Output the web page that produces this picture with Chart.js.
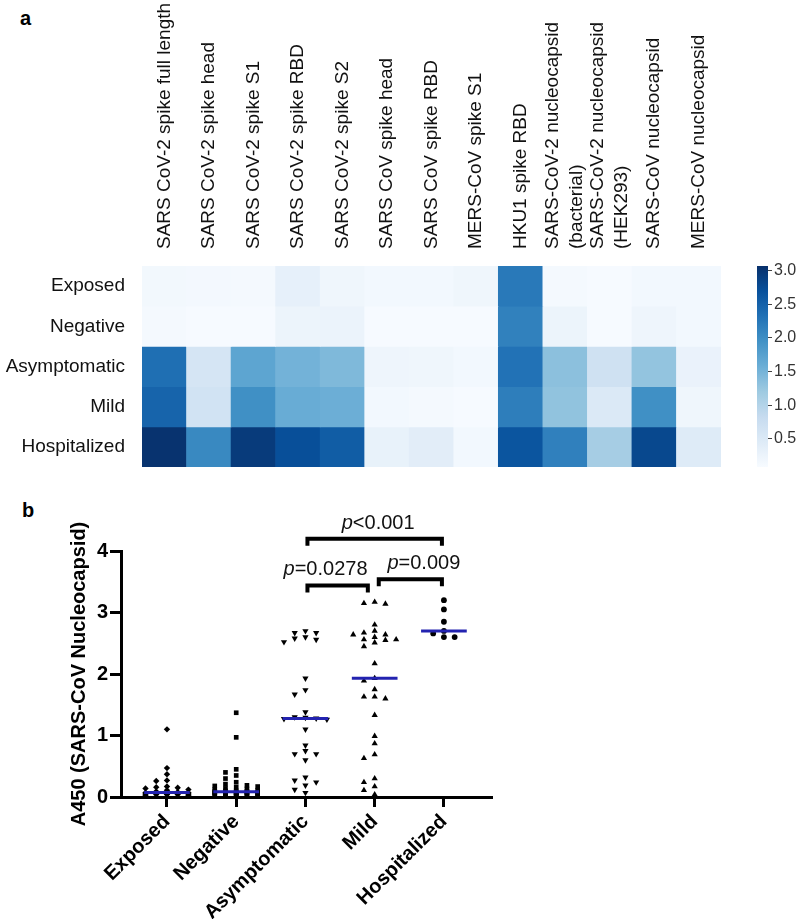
<!DOCTYPE html>
<html><head><meta charset="utf-8">
<script src="https://cdn.jsdelivr.net/npm/chart.js@4.4.1/dist/chart.umd.min.js"></script>
<style>
html,body{margin:0;padding:0;background:#fff;}
body{width:800px;height:919px;position:relative;overflow:hidden;font-family:"Liberation Sans",Arial,sans-serif;}
.panel{position:absolute;font-weight:bold;font-size:20px;line-height:20px;color:#000;}
canvas{position:absolute;}
</style></head><body>
<div class="panel" style="left:20px;top:8px">a</div>
<div class="panel" style="left:22px;top:500px">b</div>
<canvas id="heat" width="800" height="480" style="left:0;top:0"></canvas>
<canvas id="cbar" width="60" height="230" style="left:740px;top:250px"></canvas>
<canvas id="dots" width="800" height="429" style="left:0;top:490px"></canvas>
<script>
// ---------- Panel a: heatmap data ----------
const antigens = ['SARS CoV-2 spike full length','SARS CoV-2 spike head','SARS CoV-2 spike S1','SARS CoV-2 spike RBD','SARS CoV-2 spike S2','SARS CoV spike head','SARS CoV spike RBD','MERS-CoV spike S1','HKU1 spike RBD',['SARS-CoV-2 nucleocapsid','(bacterial)'],['SARS-CoV-2 nucleocapsid','(HEK293)'],'SARS-CoV nucleocapsid','MERS-CoV nucleocapsid'];
const cohorts = ['Exposed','Negative','Asymptomatic','Mild','Hospitalized'];
const heatExposed      = [0.16,0.14,0.12,0.33,0.20,0.15,0.15,0.20,2.23,0.12,0.10,0.15,0.15];
const heatNegative     = [0.12,0.10,0.10,0.25,0.26,0.10,0.10,0.10,2.14,0.25,0.10,0.22,0.15];
const heatAsymptomatic = [2.35,0.60,1.70,1.52,1.43,0.22,0.20,0.15,2.31,1.33,0.68,1.28,0.28];
const heatMild         = [2.47,0.65,1.97,1.60,1.57,0.15,0.12,0.10,2.18,1.30,0.50,1.97,0.20];
const heatHospitalized = [3.04,2.05,2.95,2.72,2.56,0.30,0.40,0.15,2.65,2.15,1.13,2.80,0.45];
const colorbarTicks = [0.5,1.0,1.5,2.0,2.5,3.0];
const colorMin = 0.08, colorMax = 3.07;

// ---------- Panel b: A450 data ----------
const groups = ['Exposed','Negative','Asymptomatic','Mild','Hospitalized'];
const a450Exposed = [1.10,0.47,0.37,0.27,0.26,0.17,0.16,0.15,0.14,0.12,0.11,0.09,0.08,0.07,0.07,0.06,0.06,0.06,0.05,0.05,0.05,0.04,0.04,0.04,0.03,0.03];
const a450Negative = [1.37,0.97,0.45,0.40,0.35,0.30,0.24,0.21,0.19,0.18,0.17,0.16,0.14,0.13,0.12,0.11,0.10,0.10,0.09,0.09,0.08,0.08,0.08,0.07,0.07,0.07,0.06,0.06,0.06,0.05,0.05,0.05,0.04,0.04,0.04,0.03,0.03,0.02,0.02,0.01];
const a450Asymptomatic = [2.70,2.67,2.67,2.60,2.58,2.56,2.52,1.93,1.74,1.67,1.38,1.30,1.29,1.28,1.27,1.26,1.10,0.84,0.75,0.70,0.70,0.60,0.32,0.27,0.24,0.19,0.12,0.07];
const a450Mild = [3.17,3.15,3.14,2.80,2.70,2.67,2.64,2.64,2.60,2.56,2.56,2.55,2.51,2.45,2.17,1.93,1.89,1.75,1.63,1.63,1.60,1.33,0.99,0.87,0.69,0.63,0.30,0.24,0.17,0.11,0.04];
const a450Hospitalized = [3.20,3.05,2.85,2.70,2.66,2.60,2.60];
const yTicksB = [0,1,2,3,4];
const pLabels = ['<0.001','=0.0278','=0.009'];
const pFrom   = [2, 2, 3.03];
const pTo     = [4, 2.93, 4];
const pLevel  = [4.20, 3.44, 3.54];
const pTextAt = [3.05, 2.29, 3.71];

// ---------- helpers ----------
Chart.defaults.font.family = '"Liberation Sans", Arial, sans-serif';
const BLUES = ['#f7fbff','#deebf7','#c6dbef','#9ecae1','#6baed6','#4292c6','#2171b5','#08519c','#08306b'];
function hex(h){return [parseInt(h.slice(1,3),16),parseInt(h.slice(3,5),16),parseInt(h.slice(5,7),16)];}
function blues(t){
  t=Math.max(0,Math.min(1,t)); const s=t*8; const i=Math.min(7,Math.floor(s)); const f=s-i;
  const a=hex(BLUES[i]), b=hex(BLUES[i+1]);
  return 'rgb('+a.map((c,k)=>Math.round(c+(b[k]-c)*f)).join(',')+')';
}
function norm(v){return (v-colorMin)/(colorMax-colorMin);}

// ---------- heatmap ----------
const LINE = 24; // spacing of two-line labels
const heatRows = [heatExposed, heatNegative, heatAsymptomatic, heatMild, heatHospitalized];
new Chart(document.getElementById('heat'), {
  type:'bar',
  data:{labels:antigens, datasets:heatRows.map((vals,r)=>({
    data: vals.map(()=>[r, r+1]),
    backgroundColor: vals.map(v=>blues(norm(v))),
    borderWidth:0, barPercentage:1, categoryPercentage:1, grouped:false
  }))},
  options:{responsive:false, animation:false, events:[],
    plugins:{legend:{display:false}, tooltip:{enabled:false}},
    layout:{padding:{left:0,right:79,top:0,bottom:13}},
    scales:{
      x:{position:'top', grid:{display:false, drawTicks:false}, border:{display:false},
         ticks:{minRotation:90, maxRotation:90, autoSkip:false, padding:17, color:'#111', labelOffset:1.5*LINE,
           font:(c)=>({size:19, lineHeight: Array.isArray(antigens[c.index]) ? LINE+'px' : (1.5*LINE)+'px'})},
         afterFit(s){s.height=266; s.paddingLeft=0; s.paddingRight=0;}},
      y:{reverse:true, min:0, max:5, grid:{display:false, drawTicks:false}, border:{display:false},
         afterBuildTicks(s){s.ticks=cohorts.map((_,i)=>({value:i+0.5}));},
         ticks:{autoSkip:false, padding:17, color:'#111', font:{size:19}, callback:(v,i)=>cohorts[i]},
         afterFit(s){s.width=142; s.paddingTop=0; s.paddingBottom=0;}}
    }}
});

// ---------- colorbar ----------
new Chart(document.getElementById('cbar'), {
  type:'bar',
  data:{labels:[''], datasets:[{data:[[colorMin,colorMax]], borderWidth:0, barPercentage:1, categoryPercentage:1,
    backgroundColor(ctx){const ca=ctx.chart.chartArea; if(!ca) return '#fff';
      const g=ctx.chart.ctx.createLinearGradient(0,ca.bottom,0,ca.top);
      for(let k=0;k<=16;k++) g.addColorStop(k/16, blues(k/16)); return g;}}]},
  options:{responsive:false, animation:false, events:[],
    plugins:{legend:{display:false}, tooltip:{enabled:false}},
    layout:{padding:{left:17,right:0,top:16,bottom:13}},
    scales:{
      x:{display:false},
      y:{position:'right', min:colorMin, max:colorMax,
         afterBuildTicks(s){s.ticks=colorbarTicks.map(v=>({value:v}));},
         grid:{drawOnChartArea:false, drawTicks:true, tickLength:4, color:'#444', lineWidth:1},
         border:{display:false},
         ticks:{padding:2, color:'#333', font:{size:16}, callback:v=>v.toFixed(1)},
         afterFit(s){s.width=32; s.paddingTop=0; s.paddingBottom=0;}}
    }}
});

// ---------- dot plot ----------
function swarm(values, step, thrPx, pxPerUnit, maxSlot){
  const idx=values.map((v,i)=>i).sort((a,b)=>values[b]-values[a]);
  const placed=[]; const off=new Array(values.length);
  for(const i of idx){
    const v=values[i]; let best=0, bestD=-1;
    for(let k=0;k<=2*maxSlot;k++){
      const s = k===0?0:(k%2? -Math.ceil(k/2): Math.ceil(k/2));
      let minD=Infinity;
      for(const p of placed) if(p.s===s) minD=Math.min(minD, Math.abs(p.v-v)*pxPerUnit);
      if(minD>=thrPx){best=s; bestD=minD; break;}
      if(minD>bestD){bestD=minD; best=s;}
    }
    placed.push({s:best,v}); off[i]=best*step;
  }
  return off;
}
function median(a){const s=[...a].sort((x,y)=>x-y); const n=s.length; return n%2? s[(n-1)/2] : (s[n/2-1]+s[n/2])/2;}

const groupValues=[a450Exposed,a450Negative,a450Asymptomatic,a450Mild,a450Hospitalized];
const styles=[{ps:'rectRot',r:3.2,rot:0},{ps:'rect',r:3.3,rot:0},{ps:'triangle',r:3.6,rot:180},{ps:'triangle',r:3.6,rot:0},{ps:'circle',r:2.9,rot:0}];
const datasets=[];
groupValues.forEach((vals,g)=>{
  const off=swarm(vals,0.155,5.5,61.4,2);
  datasets.push({type:'scatter', order:2, clip:false,
    data: vals.map((v,i)=>({x:g+off[i], y:v})),
    pointStyle:styles[g].ps, pointRadius:styles[g].r, rotation:styles[g].rot,
    backgroundColor:'#000', borderColor:'#000', borderWidth:0, pointHoverRadius:styles[g].r});
});
groupValues.forEach((vals,g)=>{
  const m=median(vals);
  datasets.push({type:'line', order:0, clip:false, data:[{x:g-0.33,y:m},{x:g+0.33,y:m}],
    borderColor:'#2323b0', borderWidth:3, pointRadius:0, fill:false});
});

const bracketPlugin={id:'brackets', afterDatasetsDraw(chart){
  const {ctx, scales:{x,y}}=chart; ctx.save();
  ctx.strokeStyle='#000'; ctx.fillStyle='#111'; ctx.lineWidth=4; ctx.lineCap='butt'; ctx.lineJoin='miter';
  pLabels.forEach((lab,i)=>{
    const x1=x.getPixelForValue(pFrom[i]), x2=x.getPixelForValue(pTo[i]), yy=y.getPixelForValue(pLevel[i]);
    ctx.beginPath(); ctx.moveTo(x1+2, yy+7); ctx.lineTo(x1+2, yy); ctx.lineTo(x2-2, yy); ctx.lineTo(x2-2, yy+7); ctx.stroke();
    ctx.font='italic 20px "Liberation Sans"'; const pw=ctx.measureText('p').width;
    ctx.font='20px "Liberation Sans"'; const rw=ctx.measureText(lab).width;
    const cx=x.getPixelForValue(pTextAt[i]); const sx=cx-(pw+rw)/2; const by=yy-10;
    ctx.textAlign='left'; ctx.textBaseline='alphabetic';
    ctx.font='italic 20px "Liberation Sans"'; ctx.fillText('p', sx, by);
    ctx.font='20px "Liberation Sans"'; ctx.fillText(lab, sx+pw, by);
  });
  ctx.restore();
}};

new Chart(document.getElementById('dots'), {
  type:'scatter',
  data:{datasets},
  options:{responsive:false, animation:false, events:[],
    plugins:{legend:{display:false}, tooltip:{enabled:false}},
    layout:{padding:{left:0,right:309,top:61,bottom:0}},
    scales:{
      x:{type:'linear', min:-0.664, max:4.68,
         afterBuildTicks(s){s.ticks=groups.map((_,i)=>({value:i}));},
         grid:{drawOnChartArea:false, drawTicks:true, tickLength:10, color:'#000', lineWidth:3},
         border:{display:true, color:'#000', width:3},
         ticks:{autoSkip:false, minRotation:45, maxRotation:45, padding:3, color:'#000', font:{size:20, weight:'bold'}, callback:(v,i)=>groups[i]},
         afterFit(s){s.height=122; s.paddingLeft=0; s.paddingRight=0;}},
      y:{min:0, max:4,
         afterBuildTicks(s){s.ticks=yTicksB.map(v=>({value:v}));},
         grid:{drawOnChartArea:false, drawTicks:true, tickLength:11, color:'#000', lineWidth:3},
         border:{display:true, color:'#000', width:3},
         ticks:{padding:2, color:'#000', font:{size:20, weight:'bold'}},
         title:{display:true, text:'A450 (SARS-CoV Nucleocapsid)', color:'#000', font:{size:20, weight:'bold'}, padding:{top:67,bottom:0}},
         afterFit(s){s.width=121; s.paddingTop=0; s.paddingBottom=0;}}
    }},
  plugins:[bracketPlugin]
});
</script>
</body></html>
